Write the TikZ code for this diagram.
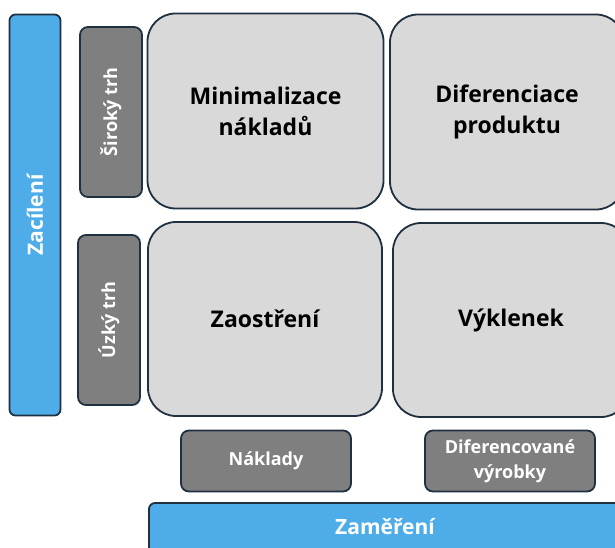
\documentclass[tikz,border=0pt]{standalone}
\usepackage{fontspec}
\setmainfont{Open Sans}
\definecolor{edge}{HTML}{1F3040}
\definecolor{barblue}{HTML}{4EADE8}
\definecolor{tagGray}{HTML}{7F7F7F}
\definecolor{cellGray}{HTML}{D9D9D9}
\newcommand{\tagfont}{\bfseries\fontsize{18}{25}\selectfont}
\newcommand{\barfont}{\bfseries\fontsize{21}{25}\selectfont}
\begin{document}
\begin{tikzpicture}[x=1pt,y=-1pt,
  box/.style={draw=edge, line width=1.8pt, inner sep=0pt, align=center, font=\bfseries},
  cell/.style={box, fill=cellGray, rounded corners=28pt, text=black, font=\bfseries\fontsize{23}{31}\selectfont},
  tag/.style={box, fill=tagGray, rounded corners=8pt, text=white, font=\tagfont},
  bar/.style={box, fill=barblue, rounded corners=6pt, text=white, font=\barfont}]
\useasboundingbox (0,0) rectangle (615,548);
\clip (0,0) rectangle (615,548);
% axis bars
\node[bar, minimum width=51pt, minimum height=401pt] (zac) at (35,215) {\rotatebox{90}{\barfont Zacílení}};
\node[bar, minimum width=520pt, minimum height=80pt] (zam) at (409,543) {};
\node[text=white, font=\barfont] (zamlbl) at (385,527) {Zaměření};
% row labels
\node[tag, minimum width=62pt, minimum height=170pt] (siroky) at (111,112) {\rotatebox{90}{\tagfont Široký trh}};
\node[tag, minimum width=62pt, minimum height=170pt] (uzky) at (109,320) {\rotatebox{90}{\tagfont Úzký trh}};
% strategy cells
\node[cell, minimum width=236pt, minimum height=195pt] (minnak) at (265.5,111) {Minimalizace\\nákladů};
\node[cell, minimum width=234pt, minimum height=195pt] (difprod) at (507,112) {Diferenciace\\produktu};
\node[cell, minimum width=234pt, minimum height=194pt] (zaost) at (265,319) {Zaostření};
\node[cell, minimum width=236pt, minimum height=194pt] (vyklen) at (511,320) {Výklenek};
% column labels
\node[tag, minimum width=170pt, minimum height=61pt] (naklady) at (266,461) {Náklady};
\node[tag, minimum width=170pt, minimum height=61pt] (difvyr) at (510,461) {Diferencované\\výrobky};
\end{tikzpicture}
\end{document}
